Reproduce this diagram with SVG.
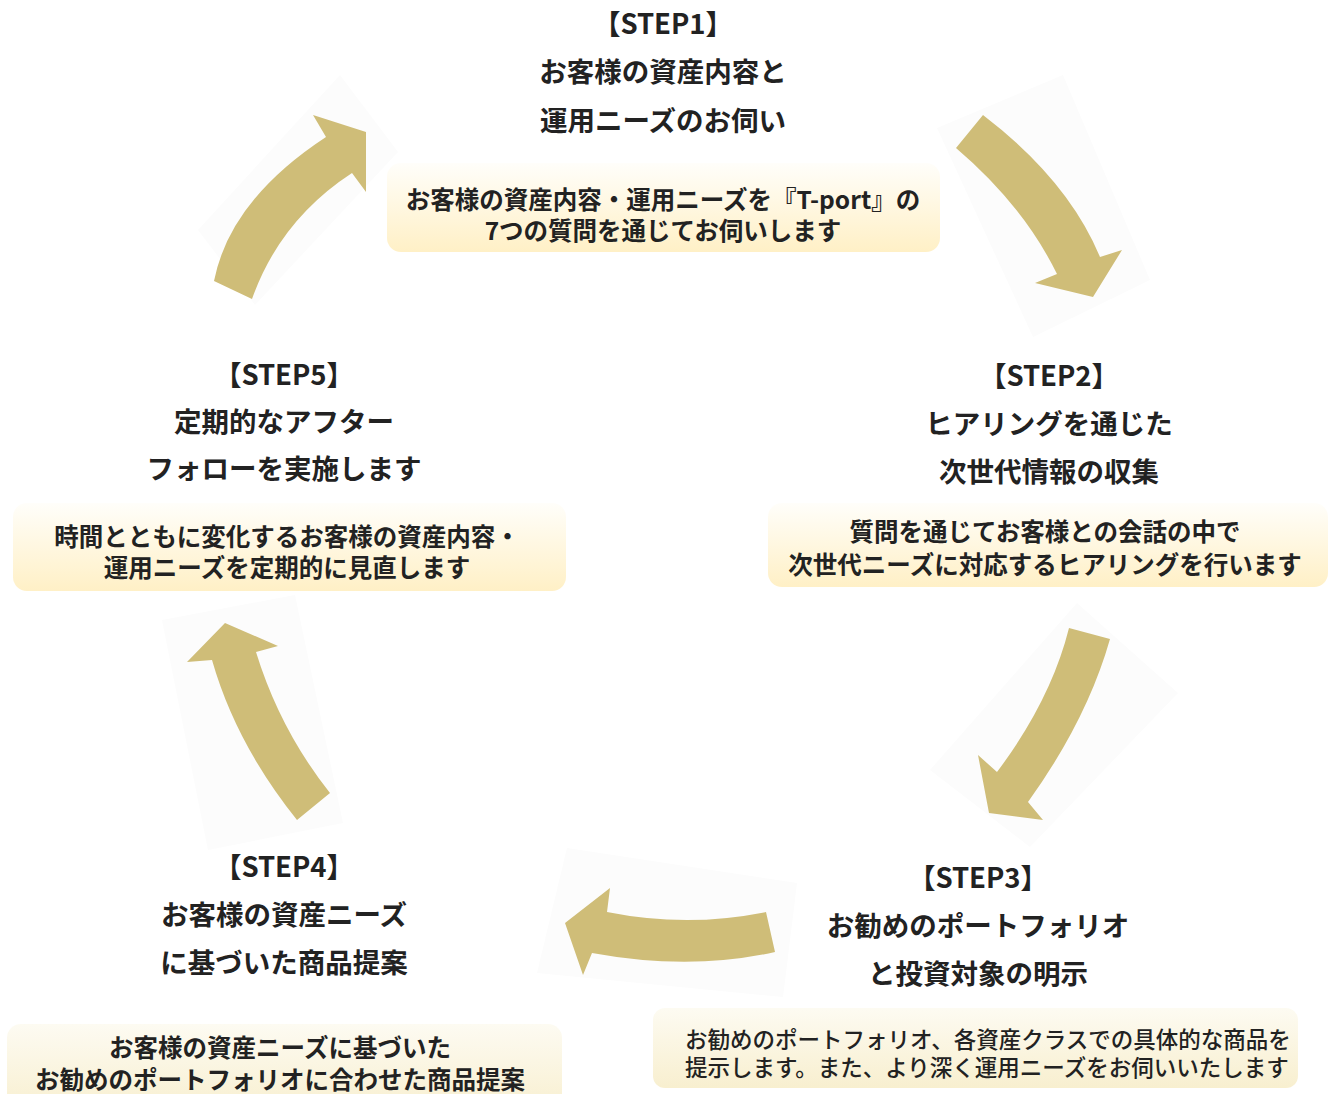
<svg xmlns="http://www.w3.org/2000/svg" width="1336" height="1094" viewBox="0 0 1336 1094">
<defs>
<linearGradient id="gY" x1="0" y1="0" x2="0" y2="1">
<stop offset="0" stop-color="#FFFEFA"/>
<stop offset="1" stop-color="#FFF0C6"/>
</linearGradient>
<linearGradient id="gB" x1="0" y1="0" x2="0" y2="1">
<stop offset="0" stop-color="#FDFBF2"/>
<stop offset="1" stop-color="#F8EFCF"/>
</linearGradient>
<style>
.t{font-family:"Noto Sans CJK JP","Noto Sans",sans-serif;font-weight:700;font-size:27.5px;fill:#222;text-anchor:middle}
.b{font-family:"Noto Sans CJK JP","Noto Sans",sans-serif;font-weight:700;font-size:24.5px;fill:#222;text-anchor:middle}
.s{font-family:"Noto Sans CJK JP","Noto Sans",sans-serif;font-weight:500;font-size:22.5px;fill:#222}
.arr{fill:#CFBD78}
.bg{fill:#FCFCFC}
</style>
</defs>
<rect width="1336" height="1094" fill="#FFFFFF"/>

<g id="connectors">
<polygon class="bg" points="340,75 398,152 255,305 198,230"/>
<polygon class="bg" points="1063,75 1150,280 1033,337 937,128"/>
<polygon class="bg" points="1077,603 1178,693 1030,847 930,770"/>
<polygon class="bg" points="567,848 797,883 783,997 537,973"/>
<polygon class="bg" points="162,620 295,595 343,823 208,850"/>
<path class="arr" d="M214,281 Q230,200 326,137 L313,115 L366,132 L366,192 L352,173 Q280,220 252,299 Z"/>
<path class="arr" d="M983,115 Q1068,180 1100,257 L1122,250 L1093,297 L1035,283 L1057,274 Q1023,205 956,148 Z"/>
<path class="arr" d="M1110,639 Q1087,720 1028,802 L1043,820 L989,813 L978,755 L997,772 Q1051,700 1069,628 Z"/>
<path class="arr" d="M775,952 Q690,971 592,953 L583,975 L565,923 L610,888 L607,912 Q687,928 766,912 Z"/>
<path class="arr" d="M297,820 Q236,744 212,660 L187,662 L225,623 L278,646 L256,652 Q280,730 330,793 Z"/>
</g>

<g id="step1">
<text class="t" x="663" y="34">【STEP1】</text>
<text class="t" x="663" y="82">お客様の資産内容と</text>
<text class="t" x="663" y="131">運用ニーズのお伺い</text>
<rect x="387" y="163" width="553" height="89" rx="14" fill="url(#gY)"/>
<text class="b" x="663" y="209">お客様の資産内容・運用ニーズを『T-port』の</text>
<text class="b" x="663" y="240">7つの質問を通じてお伺いします</text>
</g>

<g id="step2">
<text class="t" x="1049" y="386">【STEP2】</text>
<text class="t" x="1049" y="434">ヒアリングを通じた</text>
<text class="t" x="1049" y="482">次世代情報の収集</text>
<rect x="768" y="503" width="560" height="84" rx="14" fill="url(#gY)"/>
<text class="b" x="1045" y="541">質問を通じてお客様との会話の中で</text>
<text class="b" x="1045" y="574">次世代ニーズに対応するヒアリングを行います</text>
</g>

<g id="step3">
<text class="t" x="978" y="888">【STEP3】</text>
<text class="t" x="978" y="936">お勧めのポートフォリオ</text>
<text class="t" x="978" y="984">と投資対象の明示</text>
<rect x="653" y="1008" width="645" height="80" rx="12" fill="url(#gB)"/>
<text class="s" x="685" y="1048">お勧めのポートフォリオ、各資産クラスでの具体的な商品を</text>
<text class="s" x="685" y="1076">提示します。また、より深く運用ニーズをお伺いいたします</text>
</g>

<g id="step4">
<text class="t" x="284" y="877">【STEP4】</text>
<text class="t" x="284" y="925">お客様の資産ニーズ</text>
<text class="t" x="284" y="973">に基づいた商品提案</text>
<rect x="7" y="1024" width="555" height="90" rx="14" fill="url(#gB)"/>
<text class="b" x="280" y="1057">お客様の資産ニーズに基づいた</text>
<text class="b" x="280" y="1089">お勧めのポートフォリオに合わせた商品提案</text>
</g>

<g id="step5">
<text class="t" x="284" y="385">【STEP5】</text>
<text class="t" x="284" y="432">定期的なアフター</text>
<text class="t" x="284" y="479">フォローを実施します</text>
<rect x="13" y="503" width="553" height="88" rx="14" fill="url(#gY)"/>
<text class="b" x="287" y="546">時間とともに変化するお客様の資産内容・</text>
<text class="b" x="287" y="577">運用ニーズを定期的に見直します</text>
</g>
</svg>
